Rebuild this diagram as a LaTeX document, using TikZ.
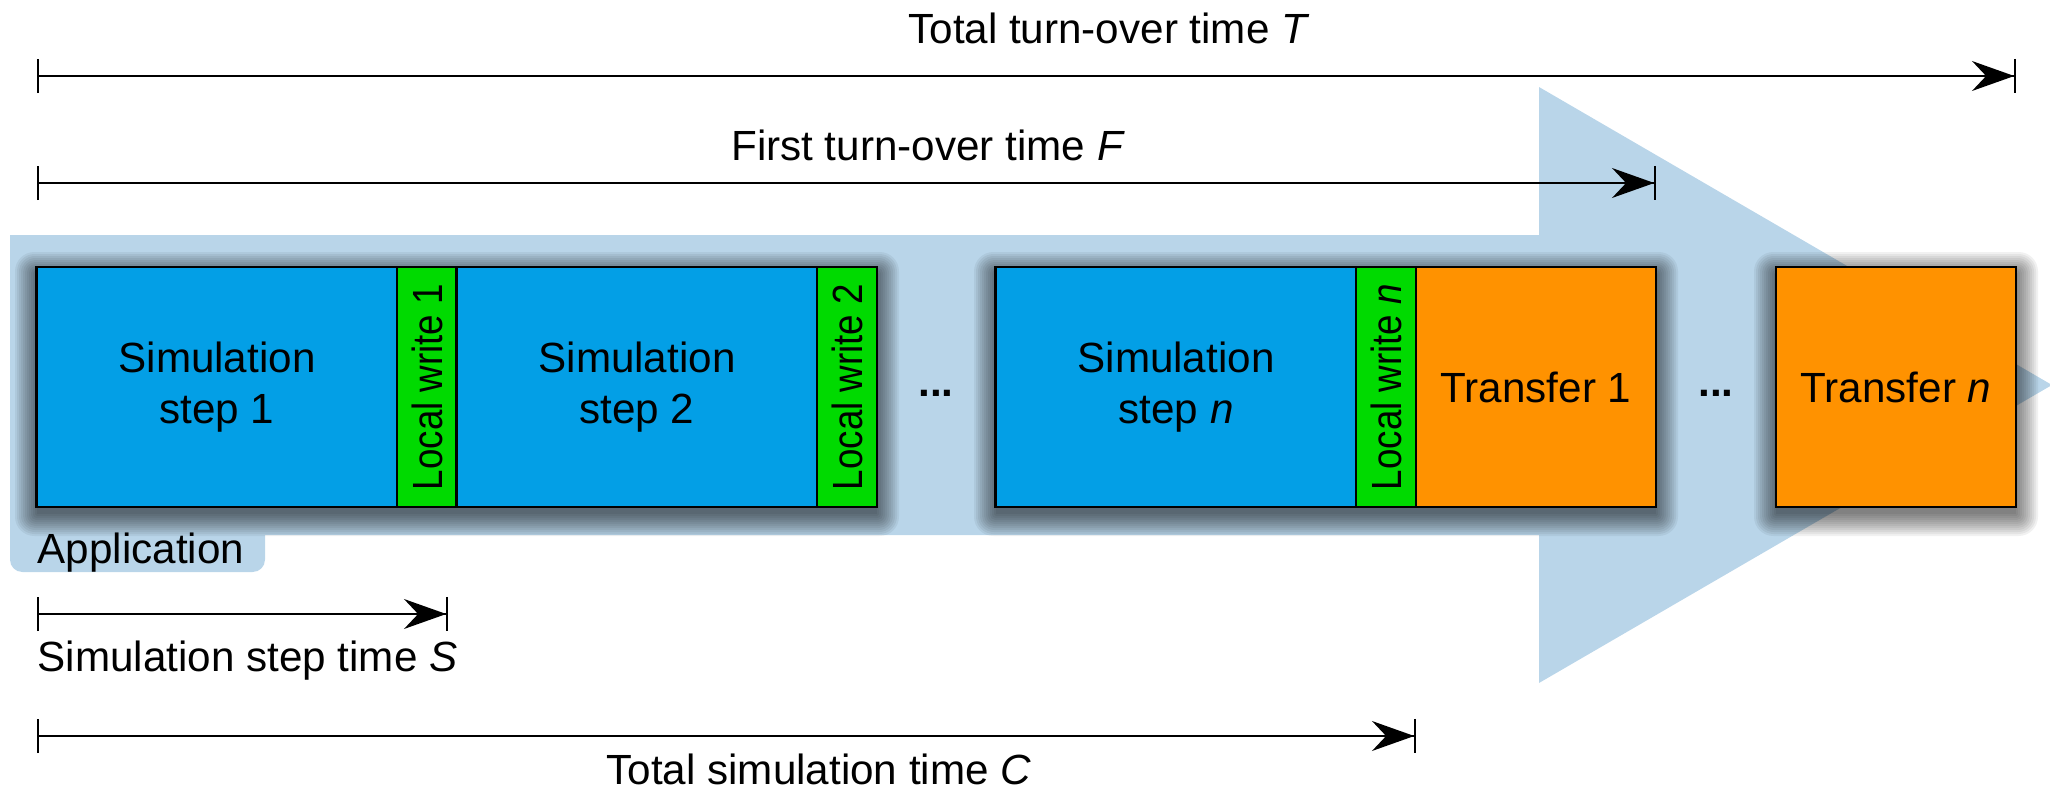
\documentclass[tikz,border=0pt]{standalone}
\usepackage{fontspec}
\setmainfont{Liberation Sans}
\usetikzlibrary{arrows.meta,calc}

\pgfdeclarelayer{bandlayer}
\pgfdeclarelayer{shadelayer}
\pgfsetlayers{bandlayer,shadelayer,main}

\definecolor{simblue}{RGB}{3,159,230}
\definecolor{writegreen}{RGB}{0,218,0}
\definecolor{xferorange}{RGB}{255,146,0}
\definecolor{bandblue}{RGB}{185,213,233}

\tikzset{
  block/.style={draw=black, line width=0.8pt, inner sep=0pt, align=center,
    font=\fontsize{12}{14.5}\selectfont},
  simbox/.style={block, fill=simblue, minimum width=3.6cm, minimum height=2.4cm},
  writebox/.style={block, fill=writegreen, rotate=90, minimum width=2.4cm, minimum height=0.6cm},
  xferbox/.style={block, fill=xferorange, minimum width=2.4cm, minimum height=2.4cm},
  dim/.style={line width=0.6pt,
    {Bar[width=9.7pt,line width=0.5pt]}-{Stealth[length=12pt,width=8.5pt,inset=4pt,sep=0pt]Bar[width=9.7pt,line width=0.5pt]}},
  lbl/.style={font=\fontsize{12}{14.5}\selectfont, inner sep=0pt},
  shadestep/.style={fill=black, opacity=0.055},
}

% soft shadow built from stacked translucent rectangles
\newcommand{\softshadow}[2]{%
  \foreach \d in {0,2,...,22} {
    \fill[shadestep, rounded corners=\d*0.25pt]
      ($(#1)+(-\d,7-\d)$) rectangle ($(#2)+(\d,7+\d)$);
  }%
}

\begin{document}
\begin{tikzpicture}[x=0.01cm, y=-0.01cm]
\useasboundingbox (0,0) rectangle (2050,800);

% process blocks
\node[simbox] (s1) at (217,387) {Simulation\\step 1};
\node[writebox] (w1) at (427,387) {\scalebox{0.87}[1]{Local write 1}};
\node[simbox] (s2) at (637,387) {Simulation\\step 2};
\node[writebox] (w2) at (847,387) {\scalebox{0.87}[1]{Local write 2}};
\node[lbl] (d1) at (936,393) {\textbf{...}};
\node[simbox] (sn) at (1176,387) {Simulation\\step \textit{n}};
\node[writebox] (wn) at (1386,387) {\scalebox{0.87}[1]{Local write \textit{n}}};
\node[xferbox] (t1) at (1536,387) {Transfer 1};
\node[lbl] (d2) at (1716,393) {\textbf{...}};
\node[xferbox] (tn) at (1896,387) {Transfer \textit{n}};

% application band with arrow head and tab
\begin{pgfonlayer}{bandlayer}
  \fill[bandblue] (10,235) -- (1539,235) -- (1539,87) -- (2052,385)
    -- (1539,683) -- (1539,535) -- (10,535) -- cycle;
  \fill[bandblue, rounded corners=3.5pt] (10,515) rectangle (265,572);
\end{pgfonlayer}
\node[lbl, anchor=base west] (app) at (37,563) {Application};

% shadows under each run of blocks
\coordinate (g1a) at (37,267);  \coordinate (g1b) at (877,507);
\coordinate (g2a) at (996,267); \coordinate (g2b) at (1656,507);
\coordinate (g3a) at (1776,267); \coordinate (g3b) at (2016,507);
\begin{pgfonlayer}{shadelayer}
  \softshadow{g1a}{g1b}
  \softshadow{g2a}{g2b}
  \softshadow{g3a}{g3b}
\end{pgfonlayer}

% time spans
\coordinate (T0) at (37,76);  \coordinate (T1) at (2016,76);
\coordinate (F0) at (37,183); \coordinate (F1) at (1656,183);
\coordinate (S0) at (37,614); \coordinate (S1) at (448,614);
\coordinate (C0) at (37,736); \coordinate (C1) at (1416,736);
\draw[dim] (T0) -- (T1);
\draw[dim] (F0) -- (F1);
\draw[dim] (S0) -- (S1);
\draw[dim] (C0) -- (C1);

\node[lbl, anchor=base] (lT) at (1109,44) {Total turn-over time \textit{T}};
\node[lbl, anchor=base] (lF) at (928,160) {First turn-over time \textit{F}};
\node[lbl, anchor=base west] (lS) at (37,671) {Simulation step time \textit{S}};
\node[lbl, anchor=base] (lC) at (819,784) {Total simulation time \textit{C}};
\end{tikzpicture}
\end{document}
